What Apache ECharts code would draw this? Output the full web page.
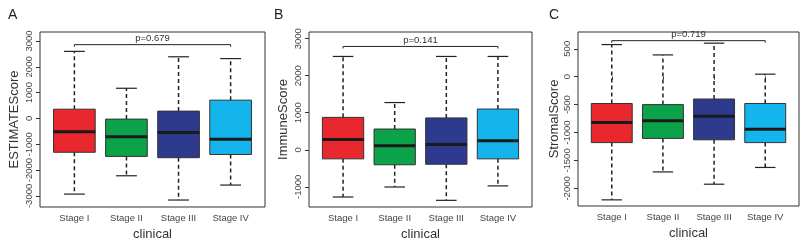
<!DOCTYPE html>
<html>
<head>
<meta charset="utf-8">
<script src="https://cdn.jsdelivr.net/npm/echarts@6/dist/echarts.min.js"></script>
<style>
  html, body { margin: 0; padding: 0; background: #fff; }
  #main { width: 801px; height: 243px; }
</style>
</head>
<body>
<div id="main"></div>
<script>
// categories
var stages = ['Stage I', 'Stage II', 'Stage III', 'Stage IV'];
var boxColors = ['#e8282e', '#0ba24a', '#2e3a8e', '#14b4ec'];

// [low, q1, median, q3, high] per stage
var estimateStats = [
    [-2930, -1310, -510, 360, 2600],
    [-2220, -1470, -710, -25, 1170],
    [-3160, -1520, -540, 285, 2390],
    [-2580, -1395, -810, 710, 2320]
];
var immuneStats = [
    [-1275, -245, 280, 875, 2520],
    [-1005, -405, 110, 560, 1275],
    [-1365, -390, 145, 860, 2520],
    [-975, -245, 245, 1100, 2520]
];
var stromalStats = [
    [-2205, -1180, -820, -480, 575],
    [-1705, -1105, -790, -500, 390],
    [-1925, -1130, -710, -400, 600],
    [-1625, -1180, -940, -480, 45]
];

// y tick labels
var estimateTicks = [-3000, -2000, -1000, 0, 1000, 2000, 3000];
var immuneTicks = [-1000, 0, 1000, 2000, 3000];
var stromalTicks = [-2000, -1500, -1000, -500, 0, 500];

// p-value text and bracket height
var pTexts = ['p=0.679', 'p=0.141', 'p=0.719'];
var pLevels = [2860, 2790, 645];

var panels = [
    {letter: 'A', name: 'ESTIMATEScore', stats: estimateStats, ticks: estimateTicks,
     min: -3430, max: 3350, left: 40, width: 225, height: 175, nameGap: 19, letterX: 3},
    {letter: 'B', name: 'ImmuneScore', stats: immuneStats, ticks: immuneTicks,
     min: -1545, max: 3180, left: 309, width: 223, height: 175, nameGap: 19, letterX: 269},
    {letter: 'C', name: 'StromalScore', stats: stromalStats, ticks: stromalTicks,
     min: -2315, max: 800, left: 578, width: 221, height: 174, nameGap: 15, letterX: 544}
];

var textColor = '#333';
var lineColor = '#222';

// one box: dashed whiskers, caps, filled box, thick median
function renderBox(params, api) {
    var x = api.value(0);
    var pLow = api.coord([x, api.value(1)]);
    var pQ1 = api.coord([x, api.value(2)]);
    var pMed = api.coord([x, api.value(3)]);
    var pQ3 = api.coord([x, api.value(4)]);
    var pHigh = api.coord([x, api.value(5)]);
    var half = api.coord([x + 0.4, 0])[0] - api.coord([x, 0])[0];
    var cap = half * 0.5;
    var cx = pMed[0];
    var color = boxColors[api.value(6)];
    return {
        type: 'group',
        children: [
            {type: 'line', shape: {x1: cx, y1: pQ3[1], x2: cx, y2: pHigh[1]},
             style: {stroke: lineColor, lineWidth: 1.5, lineDash: [4, 3]}},
            {type: 'line', shape: {x1: cx, y1: pQ1[1], x2: cx, y2: pLow[1]},
             style: {stroke: lineColor, lineWidth: 1.5, lineDash: [4, 3]}},
            {type: 'line', shape: {x1: cx - cap, y1: pHigh[1], x2: cx + cap, y2: pHigh[1]},
             style: {stroke: lineColor, lineWidth: 1.2}},
            {type: 'line', shape: {x1: cx - cap, y1: pLow[1], x2: cx + cap, y2: pLow[1]},
             style: {stroke: lineColor, lineWidth: 1.2}},
            {type: 'rect', shape: {x: cx - half, y: pQ3[1], width: half * 2, height: pQ1[1] - pQ3[1]},
             style: {fill: color, stroke: '#333', lineWidth: 1}},
            {type: 'line', shape: {x1: cx - half, y1: pMed[1], x2: cx + half, y2: pMed[1]},
             style: {stroke: '#1a1a1a', lineWidth: 3}}
        ]
    };
}

// p-value bracket from Stage I to Stage IV
function renderBracket(params, api) {
    var a = api.coord([api.value(0), api.value(2)]);
    var b = api.coord([api.value(1), api.value(2)]);
    return {
        type: 'group',
        children: [
            {type: 'polyline', shape: {points: [[a[0], a[1] + 2], a, b, [b[0], b[1] + 2]]},
             style: {stroke: lineColor, lineWidth: 1, fill: null}},
            {type: 'text', x: (a[0] + b[0]) / 2, y: a[1] - 1,
             style: {text: pTexts[api.value(3)],
                     fontSize: 9.5, fontFamily: 'Liberation Sans', fill: textColor,
                     align: 'center', verticalAlign: 'bottom'}}
        ]
    };
}

var grids = [], xAxes = [], yAxes = [], series = [], titles = [];

panels.forEach(function (p, i) {
    grids.push({
        left: p.left, top: 32, width: p.width, height: p.height,
        outerBoundsMode: 'none',
        show: true, borderColor: '#333', borderWidth: 1, backgroundColor: 'transparent'
    });
    titles.push({
        text: p.letter, left: p.letterX, top: 3,
        textStyle: {fontSize: 14, fontWeight: 'normal', color: '#222', fontFamily: 'Liberation Sans'}
    });
    xAxes.push({
        type: 'value', gridIndex: i, min: 0.34, max: 4.66,
        name: 'clinical', nameLocation: 'middle', nameGap: 13,
        nameTextStyle: {fontSize: 13, color: textColor, fontFamily: 'Liberation Sans'},
        axisLine: {show: false},
        axisTick: {show: true, customValues: [1, 2, 3, 4], length: 3, lineStyle: {color: '#333'}},
        splitLine: {show: false},
        axisLabel: {
            customValues: [1, 2, 3, 4], margin: 6,
            fontSize: 9.5, color: '#444', fontFamily: 'Liberation Sans',
            formatter: function (v) { return stages[Math.round(v) - 1]; }
        }
    });
    yAxes.push({
        type: 'value', gridIndex: i, min: p.min, max: p.max,
        name: p.name, nameLocation: 'middle', nameGap: p.nameGap, nameRotate: 90,
        nameTextStyle: {fontSize: 13, color: textColor, fontFamily: 'Liberation Sans'},
        axisLine: {show: false},
        axisTick: {show: true, customValues: p.ticks, length: 4, lineStyle: {color: '#333'}},
        splitLine: {show: false},
        axisLabel: {
            customValues: p.ticks, rotate: 90, margin: 6,
            fontSize: 9.5, color: '#444', fontFamily: 'Liberation Sans',
            formatter: function (v) { return String(v); }
        }
    });
    series.push({
        type: 'custom', xAxisIndex: i, yAxisIndex: i,
        renderItem: renderBox, clip: false,
        encode: {x: 0, y: [1, 2, 3, 4, 5]},
        data: p.stats.map(function (s, k) { return [k + 1].concat(s).concat([k]); })
    });
    series.push({
        type: 'custom', xAxisIndex: i, yAxisIndex: i,
        renderItem: renderBracket, clip: false,
        encode: {x: [0, 1], y: 2},
        data: [[1, 4, pLevels[i], i]]
    });
});

var chart = echarts.init(document.getElementById('main'));
chart.setOption({
    backgroundColor: '#fff',
    animation: false,
    title: titles,
    grid: grids,
    xAxis: xAxes,
    yAxis: yAxes,
    series: series
});
</script>
</body>
</html>
